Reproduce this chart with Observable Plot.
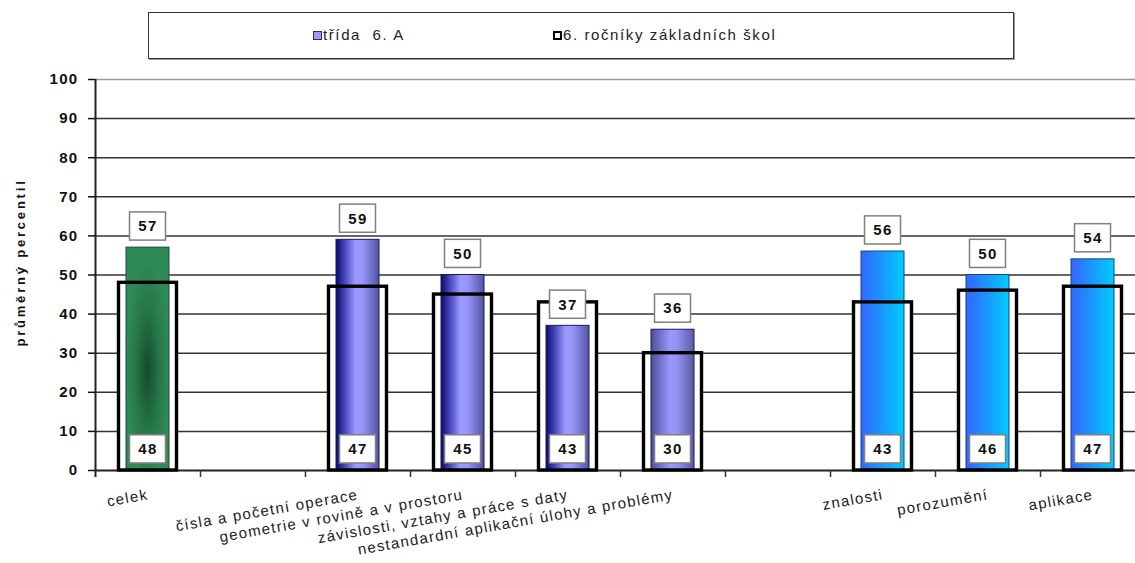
<!DOCTYPE html>
<html>
<head>
<meta charset="utf-8">
<script src="https://cdn.jsdelivr.net/npm/d3@7"></script>
<script src="https://cdn.jsdelivr.net/npm/@observablehq/plot@0.6"></script>
<style>
  html, body { margin: 0; padding: 0; background: #fff; }
  body { width: 1135px; height: 563px; overflow: hidden; font-family: Arial, "Liberation Sans", sans-serif; }
  #legend { position: relative; height: 62px; }
  #legend .box { position: absolute; left: 148px; top: 12px; width: 864px; height: 45px; border: 1.5px solid #333; box-shadow: 1px 1px 0 #999; background: #fff; }
  #legend .sw1 { position: absolute; left: 313px; top: 31px; width: 7px; height: 7px; border: 1px solid #333; background: #9999ff; }
  #legend .sw2 { position: absolute; left: 553px; top: 31px; width: 5px; height: 5px; border: 2px solid #000; background: #fff; }
  #legend .t { position: absolute; top: 27px; font-size: 15px; line-height: 16px; color: #222; letter-spacing: 1.6px; white-space: nowrap; }
  #chart svg text { letter-spacing: 1.3px; }
</style>
</head>
<body>
<div id="legend">
  <div class="box"></div>
  <div class="sw1"></div><div class="t" style="left:323px">třída&nbsp; 6. A</div>
  <div class="sw2"></div><div class="t" style="left:563px">6. ročníky základních škol</div>
</div>
<div id="chart"></div>
<script>
// ---- data ----
const categories = [
  "celek",
  "čísla a početní operace",
  "geometrie v rovině a v prostoru",
  "závislosti, vztahy a práce s daty",
  "nestandardní aplikační úlohy a problémy",
  "znalosti",
  "porozumění",
  "aplikace"
];
const classValues  = [57, 59, 50, 37, 36, 56, 50, 54];   // třída 6. A
const schoolValues = [48, 47, 45, 43, 30, 43, 46, 47];   // 6. ročníky základních škol
const groups = ["celek", "obsah", "obsah", "obsah", "obsah", "kompetence", "kompetence", "kompetence"];
const yTicks = [0, 10, 20, 30, 40, 50, 60, 70, 80, 90, 100];
const yTitle = "průměrný percentil";

// ---- derived ----
const xDomain = [categories[0], "_gap1", ...categories.slice(1, 5), "_gap2", ...categories.slice(5)];
const data = categories.map((c, i) => ({cat: c, cls: classValues[i], sch: schoolValues[i], group: groups[i]}));

const gradientFor = d =>
  d.group === "celek" ? "url(#gGreen)" :
  d.group === "kompetence" ? "url(#gBlue)" :
  d.cat === "nestandardní aplikační úlohy a problémy" ? "url(#gPurple2)" : "url(#gPurple)";
const strokeFor = d =>
  d.group === "celek" ? "#1a4d2e" : d.group === "kompetence" ? "#1c3f8a" : "#1a1a55";

const styleKeys = ["url(#gGreen)", "url(#gPurple)", "url(#gPurple2)", "url(#gBlue)"];
const classBars = styleKeys.map(k => {
  const sub = data.filter(d => gradientFor(d) === k);
  return Plot.barY(sub, {x: "cat", y: "cls", fill: k, stroke: strokeFor(sub[0]), strokeWidth: 1, insetLeft: 31, insetRight: 31});
});

const svg = Plot.plot({
  width: 1135,
  height: 501,
  marginLeft: 95,
  marginRight: 0,
  marginTop: 17,
  marginBottom: 93,
  x: {domain: xDomain, range: [95, 1145], padding: 0, axis: null},
  y: {domain: [0, 100], axis: null},
  style: {fontFamily: "Arial, 'Liberation Sans', sans-serif", background: "white", overflow: "hidden", color: "#111"},
  marks: [
    Plot.ruleY(yTicks.filter(t => t > 0 && t < 100), {stroke: "#333", strokeWidth: 1.5}),
    Plot.ruleY([100], {stroke: "#999", strokeWidth: 1.5}),
    // white interior of national bars
    Plot.barY(data, {x: "cat", y: "sch", fill: "white", insetLeft: 23.5, insetRight: 23.5}),
    ...classBars,
    Plot.ruleY([0], {stroke: "#222", strokeWidth: 2}),
    // x-axis tick marks between categories
    Plot.ruleX(xDomain, {x: d => d, dx: 52.5, y1: 0, y2: -1.8, stroke: "#333", strokeWidth: 1.5}),
    // y axis line
    Plot.ruleX([xDomain[0]], {x: d => d, dx: -52.5, y1: -1.8, y2: 100, stroke: "#222", strokeWidth: 2}),
    // national outlines
    Plot.barY(data, {x: "cat", y: "sch", fill: "none", stroke: "#000", strokeWidth: 3.4, insetLeft: 23.5, insetRight: 23.5}),
    // value boxes (class, on top)
    Plot.barY(data, {x: "cat", y1: d => d.cls + 1.8, y2: d => d.cls + 9, fill: "white", stroke: "#808080", strokeWidth: 1.5, insetLeft: 34.5, insetRight: 34.5}),
    Plot.text(data, {x: "cat", y: d => d.cls + 5.4, text: d => String(d.cls), fontSize: 15, fontWeight: "bold", fill: "#111"}),
    // value boxes (national, at base)
    Plot.barY(data, {x: "cat", y1: 1.8, y2: 9, fill: "white", stroke: "#808080", strokeWidth: 1.5, insetLeft: 34.5, insetRight: 34.5}),
    Plot.text(data, {x: "cat", y: 5.4, text: d => String(d.sch), fontSize: 15, fontWeight: "bold", fill: "#111"}),
    // y axis ticks and labels
    Plot.axisY(yTicks, {tickSize: 7, tickPadding: 10, fontSize: 15, fontWeight: "bold", strokeWidth: 1.5}),
    // category labels
    Plot.text(categories, {x: d => d, y: 0, dy: 24, rotate: -10, textAnchor: "end", fontSize: 15, fill: "#222"}),
    // y title
    Plot.text([yTitle], {frameAnchor: "left", textAnchor: "middle", dx: -75, dy: -12.5, rotate: -90, fontSize: 13, fontWeight: "bold", fill: "#111"})
  ]
});

// gradients
const defs = d3.select(svg).insert("defs", ":first-child");
function linear(id, stops) {
  const g = defs.append("linearGradient").attr("id", id).attr("x1", 0).attr("x2", 1).attr("y1", 0).attr("y2", 0);
  stops.forEach(([o, c]) => g.append("stop").attr("offset", o).attr("stop-color", c));
}
linear("gPurple", [[0, "#0a0a6e"], [0.2, "#4545b8"], [0.45, "#9999ff"], [0.62, "#9696fa"], [1, "#5252a2"]]);
linear("gPurple2", [[0, "#4e4e98"], [0.45, "#9999ff"], [0.6, "#9393f5"], [1, "#5a5aa2"]]);
linear("gBlue", [[0, "#3366ff"], [1, "#00ccff"]]);
const rg = defs.append("radialGradient").attr("id", "gGreen").attr("cx", 0.5).attr("cy", 0.55).attr("r", 0.5);
[[0, "#164a2b"], [0.55, "#267649"], [1, "#2e8b57"]].forEach(([o, c]) => rg.append("stop").attr("offset", o).attr("stop-color", c));

d3.select(svg).selectAll("text").filter(function () { return this.textContent === yTitle; }).style("letter-spacing", "2.8px");

document.getElementById("chart").appendChild(svg);
</script>
</body>
</html>
